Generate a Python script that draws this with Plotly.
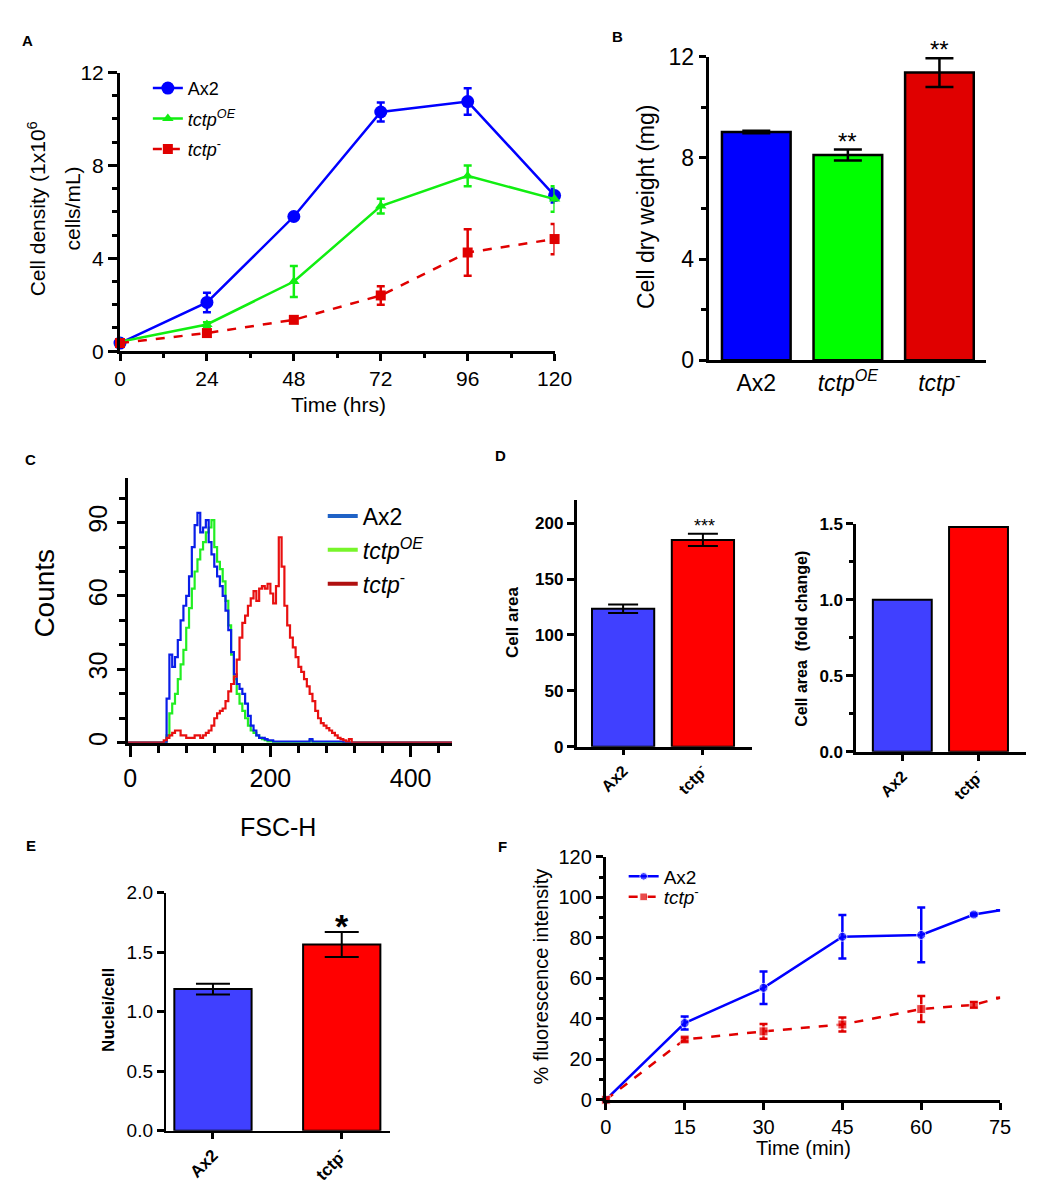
import plotly.graph_objects as go

W, H = 1045, 1200
FONT = "Liberation Sans, Arial, sans-serif"


def fx(p):
    return p / W


def fy(p):
    return 1 - p / H


# ---------------- Panel A : growth curves ----------------
a_time = [0, 24, 48, 72, 96, 120]
a_ax2 = [0.35, 2.1, 5.8, 10.3, 10.75, 6.7]
a_ax2_err = [0.1, 0.42, 0.1, 0.41, 0.57, 0.3]
a_oe = [0.4, 1.15, 3.0, 6.25, 7.55, 6.55]
a_oe_err = [0.05, 0.1, 0.67, 0.32, 0.45, 0.55]
a_ko = [0.35, 0.78, 1.35, 2.4, 4.25, 4.83]
a_ko_err = [0.05, 0.1, 0.1, 0.4, 1.0, 0.65]

# ---------------- Panel B : dry weight ----------------
b_labels = ["Ax2", "<i>tctp</i><sup><i>OE</i></sup>", "<i>tctp</i><sup>-</sup>"]
b_vals = [9.03, 8.12, 11.38]
b_err = [0.05, 0.22, 0.57]
b_colors = ["#0000FF", "#00FF00", "#E00000"]

# ---------------- Panel C : FSC-H histograms ----------------
c_bins = [44, 48, 52, 56, 60, 64, 68, 72, 76, 80,
          84, 88, 92, 96, 100, 104, 108, 112, 116, 120,
          124, 128, 132, 136, 140, 144, 148, 152, 156, 160,
          164, 168, 172, 176, 180, 184, 188, 192, 196, 200,
          204, 208, 212, 216, 220, 224, 228, 232, 236, 240,
          244, 248, 252, 256, 260, 264, 268, 272, 276, 280,
          284, 288, 292, 296, 300, 304, 308, 312, 316]
c_ax2 = [0, 0, 18, 36, 31, 35, 42, 50, 56, 60,
         68, 80, 89, 94, 86, 88, 91, 82, 77, 72,
         68, 64, 60, 54, 46, 37, 28, 24, 22, 20,
         16, 11, 7, 5, 3, 2, 2, 1.5, 1, 1,
         0.5, 0.5, 0.5, 0.5, 0.5, 0.5, 0.5, 0.5, 0.5, 0.5,
         0.5, 0.5, 0.5, 1.5, 0.5, 0.5, 0.5, 0.5, 0.5, 0.5,
         0.5, 0.5, 0.5, 0.5, 0.5, 0, 0, 0, 0]
c_oe = [0, 0, 3, 12, 16, 20, 26, 32, 38, 47,
        55, 63, 70, 75, 79, 82, 86, 88, 91, 80,
        74, 71, 66, 58, 48, 36, 26, 20, 16, 13,
        10, 7, 5, 4, 3, 2, 1.5, 1, 0.5, 0.5,
        0, 0, 0, 0, 0, 0, 0, 0, 0, 0,
        0, 0, 0, 1, 0, 0, 0, 0, 0, 0,
        0, 0, 0, 0, 0, 0, 0, 0, 0]
c_ko = [0, 1, 2, 3, 4, 5, 5, 3, 3, 2,
        2, 2, 3, 3, 2, 3, 4, 5, 7, 10,
        12, 13, 14, 17, 21, 24, 27, 34, 43, 49,
        52, 56, 59, 62, 58, 63, 64, 63, 65, 61,
        57, 64, 84, 72, 56, 48, 43, 39, 35, 31,
        29, 26, 23, 20, 17, 13, 10, 8, 7, 6,
        5, 4, 3, 2, 1.5, 1, 0.5, 1.5, 0]
c_xmin, c_xmax = -3, 459

# ---------------- Panel D : cell area ----------------
d_labels = ["<b>Ax2</b>", "<b>tctp</b><sup><b>-</b></sup>"]
d_area = [123.5, 185.0]
d_area_err = [3.8, 5.5]
d_fold = [1.0, 1.48]
de_colors = ["#4040FF", "#FF0000"]

# ---------------- Panel E : nuclei per cell ----------------
e_vals = [1.19, 1.565]
e_err = [0.045, 0.105]

# ---------------- Panel F : fluorescence ----------------
f_time = [0, 15, 30, 45, 60, 70, 75]
f_ax2 = [0, 37.9, 55.3, 80.5, 81.4, 91.5, 93.6]
f_ax2_err = [0, 3.2, 8.0, 10.7, 13.5, 0.5, 0]
f_ko = [0, 29.8, 33.8, 37.2, 44.8, 46.9, 50.4]
f_ko_err = [0, 1.0, 3.6, 3.5, 6.4, 1.5, 0]
f_msize = [9, 9, 9, 9, 9, 9, 0]

BLUE, GREEN, RED = "#0000FF", "#11EE11", "#E00000"

fig = go.Figure()

# ---- A ----
fig.add_trace(go.Scatter(
    x=a_time, y=a_ax2, mode="lines+markers", name="Ax2", legendgroup="a1",
    line=dict(color=BLUE, width=2.5), marker=dict(symbol="circle", size=13, color=BLUE),
    error_y=dict(type="data", array=a_ax2_err, color=BLUE, thickness=2.5, width=4),
    xaxis="x", yaxis="y", legend="legend", cliponaxis=False))
fig.add_trace(go.Scatter(
    x=a_time, y=a_oe, mode="lines+markers", name="<i>tctp<sup>OE</sup></i>", legendgroup="a2",
    line=dict(color=GREEN, width=2.5), marker=dict(symbol="triangle-up", size=10, color=GREEN),
    error_y=dict(type="data", array=a_oe_err, color=GREEN, thickness=2.5, width=4),
    xaxis="x", yaxis="y", legend="legend", cliponaxis=False))
fig.add_trace(go.Scatter(
    x=a_time, y=a_ko, mode="lines+markers", name="<i>tctp</i><sup>-</sup>", legendgroup="a3",
    line=dict(color=RED, width=2.5, dash="dash"), marker=dict(symbol="square", size=10, color=RED),
    error_y=dict(type="data", array=a_ko_err, color=RED, thickness=2.5, width=4),
    xaxis="x", yaxis="y", legend="legend", cliponaxis=False))

# ---- B ----
fig.add_trace(go.Bar(
    x=[0, 1, 2], y=b_vals, width=0.75, showlegend=False,
    marker=dict(color=b_colors, line=dict(color="black", width=2.5)),
    error_y=dict(type="data", array=b_err, color="black", thickness=2.5, width=14),
    xaxis="x2", yaxis="y2"))

# ---- C ----
c_x = [c_xmin] + c_bins + [c_xmax]
for vals, col in [(c_oe, "#22EE22"), (c_ax2, "#0A1EE8"), (c_ko, "#E81010")]:
    fig.add_trace(go.Scatter(
        x=c_x, y=[0] + vals + [0], mode="lines", showlegend=False,
        line=dict(color=col, width=2.2, shape="hv"), xaxis="x3", yaxis="y3"))
# legend entries of panel C (drawn in the legend only)
for name, col, grp in [("Ax2", "#1F62C6", "c1"), ("<i>tctp<sup>OE</sup></i>", "#77F52A", "c2"),
                       ("<i>tctp</i><sup>-</sup>", "#B01010", "c3")]:
    fig.add_trace(go.Scatter(
        x=[None], y=[None], mode="lines", name=name, legendgroup=grp,
        line=dict(color=col, width=4), xaxis="x3", yaxis="y3", legend="legend2"))

# ---- D ----
fig.add_trace(go.Bar(
    x=[0, 1], y=d_area, width=0.78, showlegend=False,
    marker=dict(color=de_colors, line=dict(color="black", width=2)),
    error_y=dict(type="data", array=d_area_err, color="black", thickness=2, width=15),
    xaxis="x4", yaxis="y4"))
fig.add_trace(go.Bar(
    x=[0, 1], y=d_fold, width=0.773, showlegend=False,
    marker=dict(color=de_colors, line=dict(color="black", width=2)),
    xaxis="x5", yaxis="y5"))

# ---- E ----
fig.add_trace(go.Bar(
    x=[0, 1], y=e_vals, width=0.6, showlegend=False,
    marker=dict(color=de_colors, line=dict(color="black", width=2)),
    error_y=dict(type="data", array=e_err, color="black", thickness=2, width=17),
    xaxis="x6", yaxis="y6"))

# ---- F ----
fig.add_trace(go.Scatter(
    x=f_time, y=f_ax2, mode="lines+markers", name="Ax2", legendgroup="f1",
    line=dict(color=BLUE, width=2.5), marker=dict(symbol="circle", size=f_msize, color=BLUE),
    error_y=dict(type="data", array=f_ax2_err, color=BLUE, thickness=2.5, width=4),
    xaxis="x7", yaxis="y7", legend="legend3", cliponaxis=False))
fig.add_trace(go.Scatter(
    x=f_time, y=f_ko, mode="lines+markers", name="<i>tctp</i><sup>-</sup>", legendgroup="f2",
    line=dict(color=RED, width=2.5, dash="dash"), marker=dict(symbol="square", size=f_msize, color=RED),
    error_y=dict(type="data", array=f_ko_err, color=RED, thickness=2.5, width=4),
    xaxis="x7", yaxis="y7", legend="legend4", cliponaxis=False))


def ax(dom, rng, anchor, size=20, lw=3, **kw):
    d = dict(domain=dom, range=rng, anchor=anchor, showline=True, linecolor="black",
             linewidth=lw, ticks="outside", tickcolor="black", tickwidth=2.5, ticklen=8,
             showgrid=False, zeroline=False, fixedrange=True,
             tickfont=dict(family=FONT, size=size, color="black"))
    d.update(kw)
    return d


def minor(dt, ln=5):
    return dict(ticks="outside", dtick=dt, ticklen=ln, tickwidth=2.5, tickcolor="black", showgrid=False)


def leg(px, py, size, gap=0):
    return dict(x=fx(px), y=fy(py), xanchor="left", yanchor="top", bgcolor="rgba(0,0,0,0)",
                font=dict(family=FONT, size=size, color="black"), tracegroupgap=gap)


layout = dict(
    width=W, height=H, margin=dict(l=0, r=0, t=0, b=0),
    paper_bgcolor="white", plot_bgcolor="white", font=dict(family=FONT, color="black"),
    barmode="overlay",
    # A
    xaxis=ax([fx(108.5), fx(553.3)], [0, 120], "y", 21, tick0=0, dtick=24, ticklen=7, minor=minor(12, 4)),
    yaxis=ax([fy(337.5), fy(52.7)], [0, 12], "x", 21, dtick=4, ticklen=9, minor=minor(1, 5)),
    # B
    xaxis2=ax([fx(711), fx(995)], [-0.52, 2.51], "y2", 23, tickvals=[0, 1, 2], ticktext=b_labels, ticks=""),
    yaxis2=ax([fy(346.7), fy(36.7)], [0, 12], "x2", 23, dtick=4, ticklen=7, minor=minor(2, 5)),
    # C
    xaxis3=ax([fx(116.7), fx(448.3)], [c_xmin, c_xmax], "y3", 25, tick0=0, dtick=200, ticklen=11, minor=minor(40, 7)),
    yaxis3=ax([fy(737.7), fy(466.7)], [0, 108.4], "x3", 25, dtick=30, tickangle=-90, minor=minor(10, 6)),
    # D left
    xaxis4=ax([fx(575.8), fx(755.5)], [-0.583, 1.617], "y4", 16, lw=2.5, tickvals=[0, 1], ticktext=d_labels,
              tickangle=-45, ticklen=6),
    yaxis4=ax([fy(741.7), fy(489.3)], [0, 221], "x4", 17, lw=2.5, dtick=50, ticklen=7,
              tickprefix="<b>", ticksuffix="</b>"),
    # D right
    xaxis5=ax([fx(862), fx(1035.3)], [-0.605, 1.617], "y5", 16, lw=2.5, tickvals=[0, 1], ticktext=d_labels,
              tickangle=-45, ticklen=6),
    yaxis5=ax([fy(747), fy(514)], [0, 1.5], "x5", 17, lw=2.5, dtick=0.5, tickformat=".1f", ticklen=7,
              tickprefix="<b>", ticksuffix="</b>", minor=minor(0.25, 4)),
    # E
    xaxis6=ax([fx(155.4), fx(385)], [-0.366, 1.376], "y6", 17, lw=2, tickvals=[0, 1], ticktext=d_labels,
              tickangle=-45, ticklen=6),
    yaxis6=ax([fy(1134.3), fy(891)], [0, 2.0], "x6", 19, lw=2, dtick=0.5, tickformat=".1f", ticklen=7),
    # F
    xaxis7=ax([fx(605.7), fx(1009.3)], [0, 75], "y7", 20, dtick=15, ticklen=7),
    yaxis7=ax([fy(1102.7), fy(854.3)], [0, 120], "x7", 20, dtick=20, ticklen=7, minor=minor(10, 4)),
    legend=leg(137, 50, 18, 4),
    legend2=leg(316, 484, 23, 1),
    legend3=leg(624, 855, 19),
    legend4=leg(624, 876, 19),
)

anns = []


def ann(px, py, text, size, angle=0, bold=False):
    anns.append(dict(x=fx(px), y=fy(py), xref="paper", yref="paper", text=f"<b>{text}</b>" if bold else text,
                     showarrow=False, textangle=angle, xanchor="center", yanchor="middle",
                     font=dict(family=FONT, size=size, color="black")))


# panel letters
for lx, ly, lt in [(14, 20, "A"), (618, 16, "B"), (17, 448, "C"), (498, 444, "D"), (17, 843, "E"), (500, 844, "F")]:
    ann(lx, ly, lt, 15, bold=True)

# axis titles
ann(23, 192, "Cell density (1x10<sup>6</sup>", 21, -90)
ann(60, 192, "cells/mL)", 21, -90)
ann(332, 392, "Time (hrs)", 21)
ann(647, 190, "Cell dry weight (mg)", 23, -90)
ann(31, 585, "Counts", 28, -90)
ann(270, 824, "FSC-H", 25)
ann(510, 615, "Cell area", 17, -90, bold=True)
ann(806, 631, "Cell area\u00a0 (fold change)", 16, -90, bold=True)
ann(96, 1011, "Nuclei/cell", 17, -90, bold=True)
ann(539, 977, "% fluorescence intensity", 20, -90)
ann(808, 1152, "Time (min)", 20)

# significance marks
ann(853, 123, "**", 24)
ann(947, 29, "**", 24)
ann(707, 516, "***", 18)
ann(336, 925, "*", 34, bold=True)

layout["annotations"] = anns
fig.update_layout(**layout)
fig.write_html("out.html")
